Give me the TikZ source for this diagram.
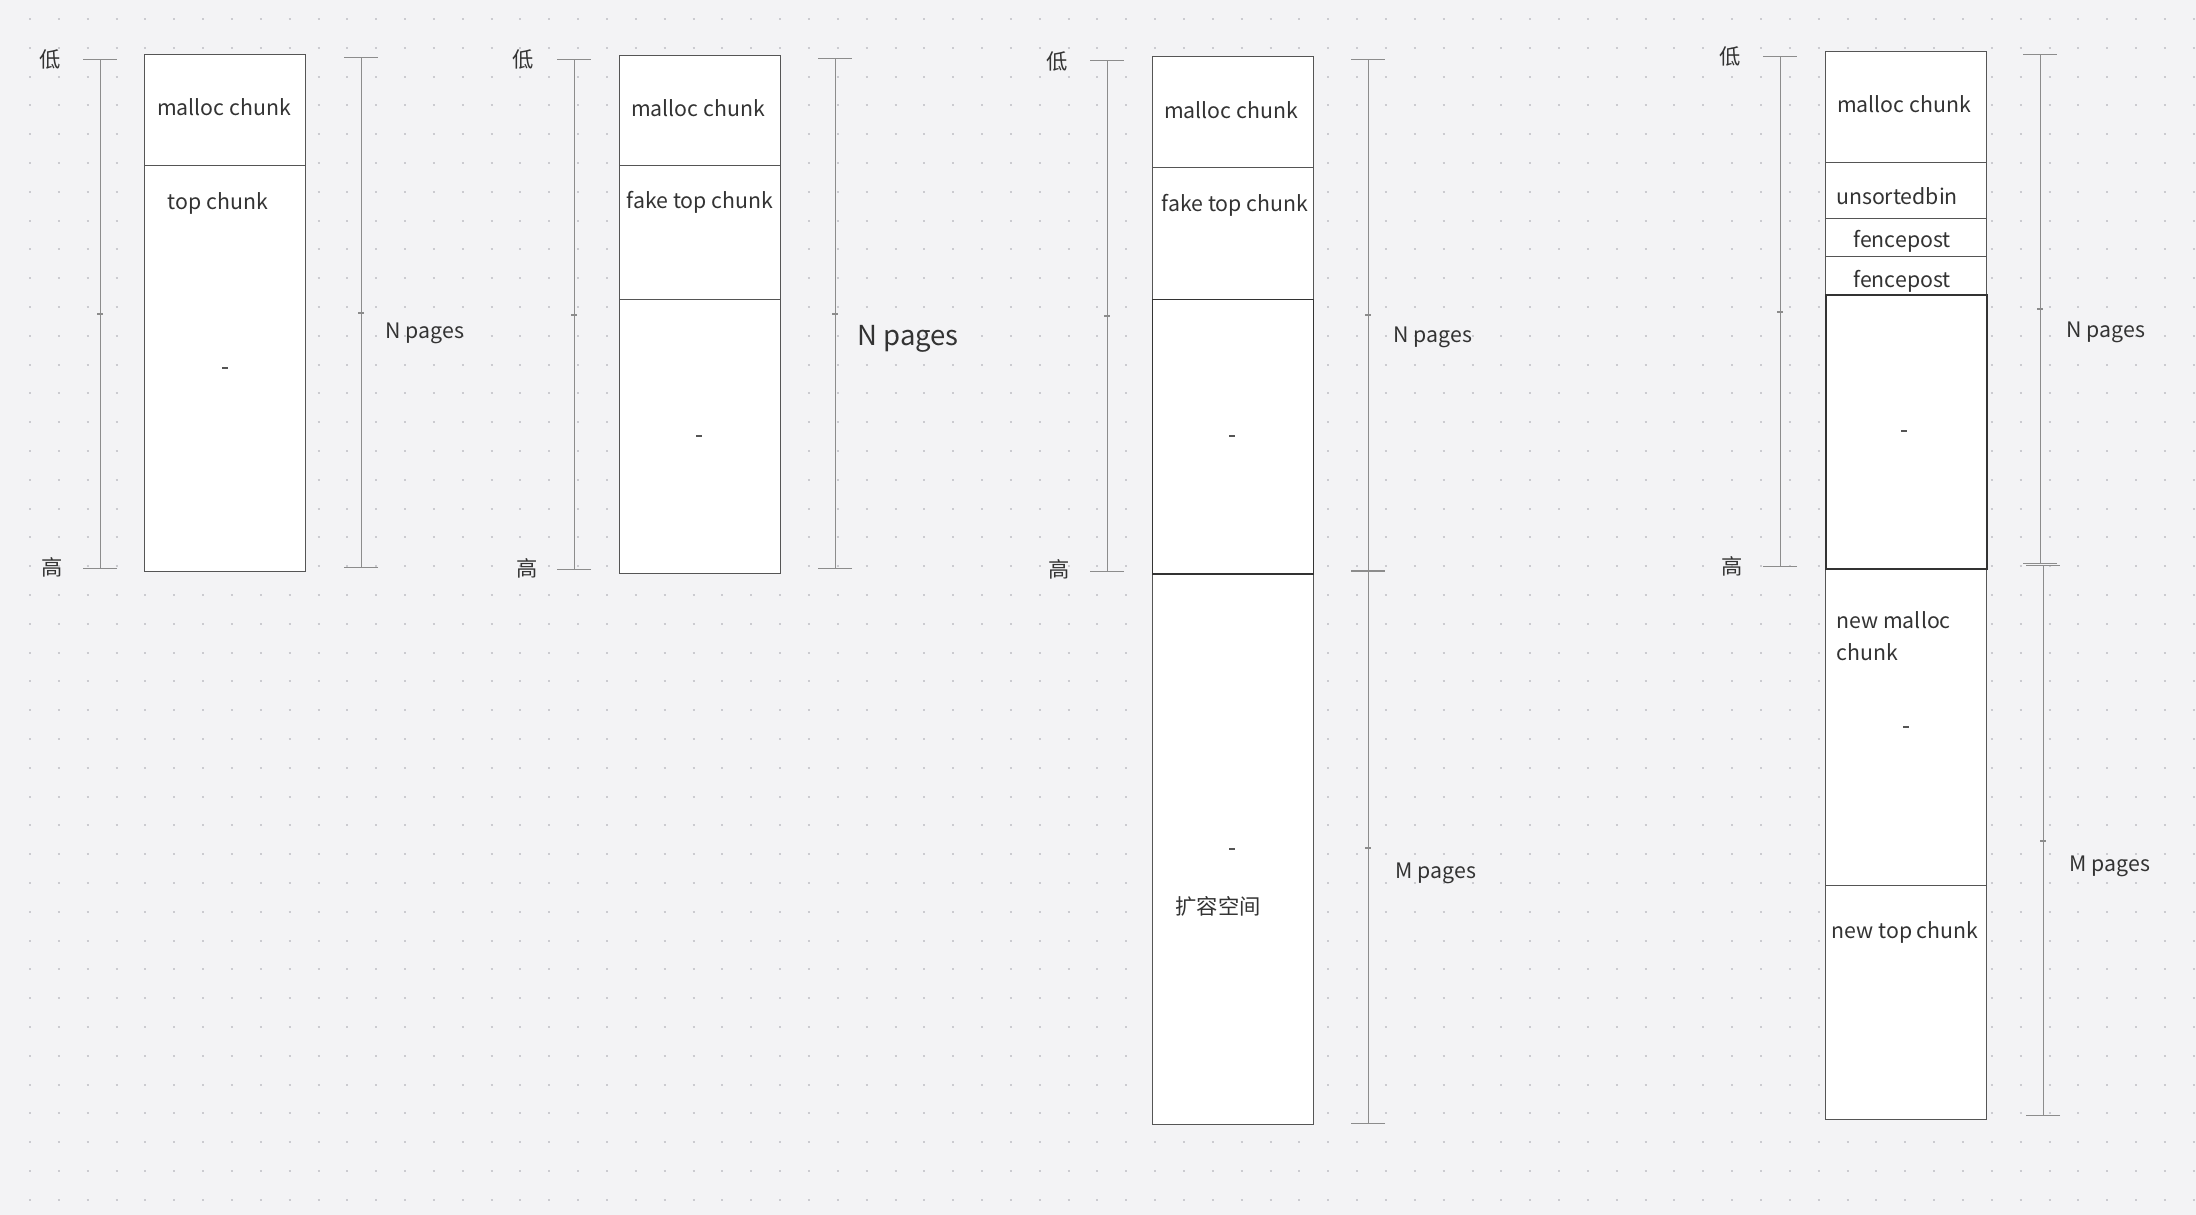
\documentclass[tikz,border=0pt]{standalone}
\usepackage{fontspec}
\setmainfont{Noto Sans CJK SC}
\usetikzlibrary{arrows.meta,decorations.markings}
\definecolor{bgc}{HTML}{F3F3F5}
\definecolor{dotc}{HTML}{CBCBD0}
\definecolor{boxc}{HTML}{555555}
\definecolor{rulc}{HTML}{8C8C8C}
\definecolor{txtc}{HTML}{333333}
\begin{document}
\begin{tikzpicture}[x=1pt, y=-1pt, line width=1pt, text=txtc,
  font=\fontsize{21.3}{32}\selectfont,
  seg/.style={draw=boxc, fill=white, line width=1.3pt, inner sep=0pt, minimum width=161pt, anchor=north west},
  thickseg/.style={seg, draw=txtc, line width=1.5pt},
  lbl/.style={inner sep=0pt},
  blip/.style={fill=boxc, minimum width=6pt, minimum height=2pt, inner sep=0pt},
  ruler/.style={draw=rulc, {Bar[width=34pt]}-{Bar[width=34pt]}, postaction={decorate},
    decoration={markings, mark=at position 0.5 with {\fill[rulc] (-1pt,-3pt) rectangle (1pt,3pt);}}}]
% Fondo
\fill[bgc] (0,0) rectangle (2196,1215);
\useasboundingbox (0,0) rectangle (2196,1215);
\foreach \r in {0,...,41}
  \draw[dotc, line width=2pt, dash pattern=on 2pt off 26.85pt] (29,19+28.8*\r) -- (2196,19+28.8*\r);
% ---
% A
% ---
\node[seg, minimum height=111pt] (mcA) at (144,54) {};
\node[seg, minimum height=406pt] (topA) at (144,165) {};
\node[lbl] (tmcA) at (224,107) {malloc chunk};
\node[lbl] (ttopA) at (218,203) {top chunk};
\node[blip] (bA) at (225,368) {};
\coordinate (loA) at (100,59); \coordinate (hiA) at (100,569);
\coordinate (naA) at (361,57); \coordinate (nbA) at (361,568);
\draw[ruler] (loA) -- (hiA);
\draw[ruler] (naA) -- (nbA);
\node[lbl] (lowA) at (50,59) {低};
\node[lbl] (highA) at (52,567) {高};
\node[lbl] (npA) at (425,333) {N pages};
% ---
% B
% ---
\node[seg, minimum height=110pt] (mcB) at (619,55) {};
\node[seg, minimum height=134pt] (ftB) at (619,165) {};
\node[seg, minimum height=274pt] (restB) at (619,299) {};
\node[lbl] (tmcB) at (698,108) {malloc chunk};
\node[lbl] (tftB) at (700,202) {fake top chunk};
\node[blip] (bB) at (699,436) {};
\coordinate (loB) at (574,59); \coordinate (hiB) at (574,570);
\coordinate (naB) at (835,58); \coordinate (nbB) at (835,569);
\draw[ruler] (loB) -- (hiB);
\draw[ruler] (naB) -- (nbB);
\node[lbl] (lowB) at (523,59) {低};
\node[lbl] (highB) at (527,568) {高};
\node[lbl, font=\fontsize{27.5}{32}\selectfont] (npB) at (908,339) {N pages};
% ---
% C
% ---
\node[seg, minimum height=111pt] (mcC) at (1152,56) {};
\node[seg, minimum height=132pt] (ftC) at (1152,167) {};
\node[seg, minimum height=551pt] (extC) at (1152,573) {};
\node[seg, draw=txtc, minimum height=274pt] (restC) at (1152,299) {};
\draw[txtc, line width=2.2pt] (restC.south west) -- (restC.south east);
\node[lbl] (tmcC) at (1231,110) {malloc chunk};
\node[lbl] (tftC) at (1235,205) {fake top chunk};
\node[blip] (bC) at (1232,436) {};
\node[blip] (bC2) at (1232,849) {};
\node[lbl] (textC) at (1218,906) {扩容空间};
\coordinate (loC) at (1107,60); \coordinate (hiC) at (1107,572);
\coordinate (naC) at (1368,59); \coordinate (nbC) at (1368,571);
\coordinate (mbC) at (1368,1124);
\draw[ruler] (loC) -- (hiC);
\draw[ruler] (naC) -- (nbC);
\draw[ruler] (nbC) -- (mbC);
\node[lbl] (lowC) at (1057,61) {低};
\node[lbl] (highC) at (1059,569) {高};
\node[lbl] (npC) at (1433,337) {N pages};
\node[lbl] (mpC) at (1436,873) {M pages};
% ---
% D
% ---
\node[seg, minimum height=111pt] (mcD) at (1825,51) {};
\node[seg, minimum height=56pt] (ubD) at (1825,162) {};
\node[seg, minimum height=38pt] (fpD) at (1825,218) {};
\node[seg, minimum height=38pt] (fpDD) at (1825,256) {};
\node[seg, minimum height=317pt] (nmD) at (1825,568) {};
\node[seg, minimum height=234pt] (ntD) at (1825,885) {};
\node[thickseg, minimum height=274pt] (restD) at (1825,294) {};
\node[lbl] (tmcD) at (1904,104) {malloc chunk};
\node[lbl] (tubD) at (1897,196) {unsortedbin};
\node[lbl] (tfpD) at (1902,241) {fencepost};
\node[lbl] (tfpDD) at (1902,281) {fencepost};
\node[blip] (bD) at (1904,431) {};
\node[lbl, anchor=west, align=left] (tnmD) at (1836,636) {new malloc\\chunk};
\node[blip] (bD2) at (1906,727) {};
\node[lbl] (tntD) at (1905,932) {new top chunk};
\coordinate (loD) at (1780,56); \coordinate (hiD) at (1780,567);
\coordinate (naD) at (2040,54); \coordinate (nbD) at (2040,564);
\coordinate (maD) at (2043,565); \coordinate (mbD) at (2043,1116);
\draw[ruler] (loD) -- (hiD);
\draw[ruler] (naD) -- (nbD);
\draw[ruler] (maD) -- (mbD);
\node[lbl] (lowD) at (1730,56) {低};
\node[lbl] (highD) at (1732,566) {高};
\node[lbl] (npD) at (2106,332) {N pages};
\node[lbl] (mpD) at (2110,866) {M pages};
\end{tikzpicture}
\end{document}
